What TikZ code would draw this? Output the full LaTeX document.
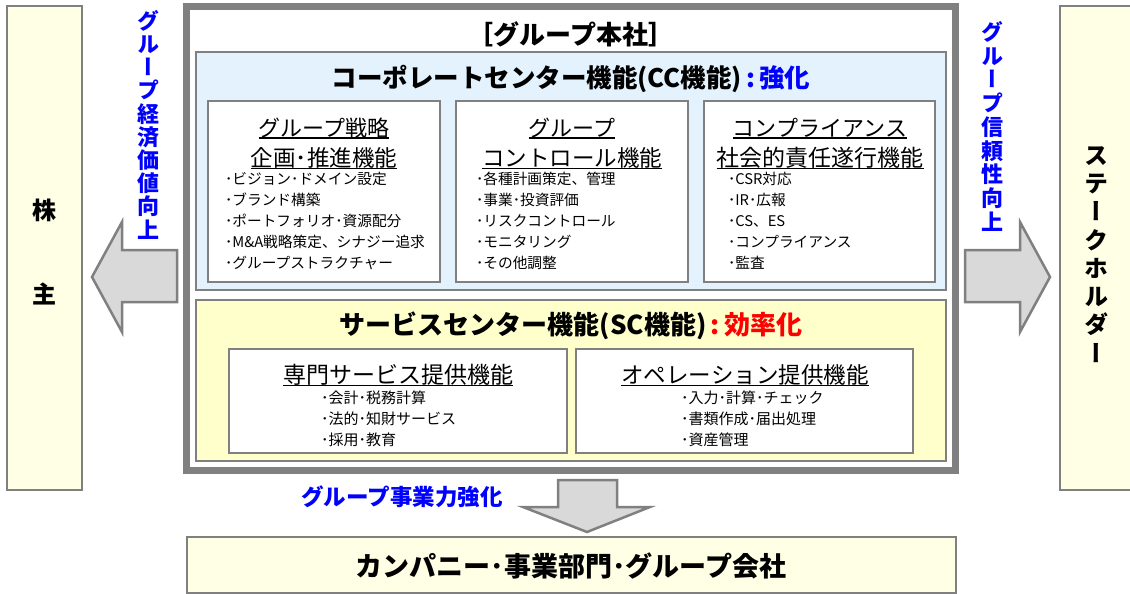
\documentclass[tikz,border=0pt]{standalone}
\usepackage{fontspec}
\setmainfont{Noto Sans CJK JP}
\newfontfamily\vjp{Noto Sans CJK JP}[RawFeature=+vert]
\definecolor{frame}{HTML}{808080}
\definecolor{ccfill}{HTML}{E3F2FC}
\definecolor{scfill}{HTML}{FFFFCC}
\definecolor{sidefill}{HTML}{FFFFE5}
\definecolor{arrfill}{HTML}{D9D9D9}
\definecolor{jblue}{HTML}{0000FF}
\definecolor{jred}{HTML}{FF0000}
\newcommand\js{\vrule height .88em depth .12em width 0pt}
\newsavebox\ulbox
\newcommand\myul[1]{\sbox\ulbox{#1}\rlap{\usebox\ulbox}\rule[-2.4pt]{\wd\ulbox}{1.3pt}}
\begin{document}
\begin{tikzpicture}[x=1pt,y=-1pt,
  box/.style={draw=frame, line width=2pt, inner sep=0pt, outer sep=0pt},
  t/.style={inner sep=0pt, outer sep=0pt, execute at begin node=\js},
  f/.style={font=\fontsize{#1pt}{#1pt}\selectfont},
  fb/.style={font=\fontsize{#1pt}{#1pt}\selectfont\bfseries},
  fv/.style={font=\vjp\fontsize{#1pt}{#1pt}\selectfont\bfseries},
  blockarrow/.style={fill=arrfill, draw=frame, line width=2.5pt, line join=miter}]
\useasboundingbox (0,0) rectangle (1130,594);
% side boxes
\node[box, line width=2.5pt, fill=sidefill, minimum width=75pt, minimum height=484pt] (sh) at (44.5,248) {};
\node[box, line width=2.5pt, fill=sidefill, minimum width=80pt, minimum height=484pt] (st) at (1100,248) {};
\node[t, fb=24] (sh1) at (44,210) {株};
\node[t, fb=24] (sh2) at (44,294) {主};
\foreach \c [count=\i] in {ス,テ,ー,ク,ホ,ル,ダ,ー}
  \node[t, fv=24] (stc\i) at (1096,{155+28.3*(\i-1)}) {\c};
% head office frame
\node[draw=frame, line width=7pt, fill=white, minimum width=769pt, minimum height=464pt, inner sep=0pt] (hq) at (571,238.5) {};
\node[t, fb=26] (hqt) at (571,35) {［グループ本社］};
% corporate center
\node[box, fill=ccfill, minimum width=750pt, minimum height=238pt] (cc) at (571,171) {};
\node[t, fb=25.5] (cct) at (571,79) {コーポレートセンター機能(CC機能)\textcolor{jblue}{\,:\,強化}};
\node[box, line width=2.5pt, fill=white, minimum width=232pt, minimum height=181pt] (g1) at (324,191.5) {};
\node[box, line width=2.5pt, fill=white, minimum width=232pt, minimum height=181pt] (g2) at (572,191.5) {};
\node[box, line width=2.5pt, fill=white, minimum width=231pt, minimum height=181pt] (g3) at (819.5,191.5) {};
\node[t, f=22] (g1a) at (324,128) {\myul{グループ戦略}};
\node[t, f=22.5] (g1b) at (324,158) {\myul{企画･推進機能}};
\node[t, f=22] (g2a) at (572,128) {\myul{グループ}};
\node[t, f=22.5] (g2b) at (572,158) {\myul{コントロール機能}};
\node[t, f=22] (g3a) at (820,128) {\myul{コンプライアンス}};
\node[t, f=23] (g3b) at (820,158) {\myul{社会的責任遂行機能}};
\foreach \s [count=\i] in {･ビジョン･ドメイン設定,･ブランド構築,･ポートフォリオ･資源配分,･M\&A戦略策定、シナジー追求,･グループストラクチャー}
  \node[t, f=14.7, anchor=west] (g1i\i) at (225,{179+21*(\i-1)}) {\s};
\foreach \s [count=\i] in {･各種計画策定、管理,･事業･投資評価,･リスクコントロール,･モニタリング,･その他調整}
  \node[t, f=14.7, anchor=west] (g2i\i) at (476,{179+21*(\i-1)}) {\s};
\foreach \s [count=\i] in {･CSR対応,･IR･広報,･CS、ES,･コンプライアンス,･監査}
  \node[t, f=14.7, anchor=west] (g3i\i) at (728,{179+21*(\i-1)}) {\s};
% service center
\node[box, fill=scfill, minimum width=750pt, minimum height=161pt] (sc) at (571,380.5) {};
\node[t, fb=26] (sct) at (571,326) {サービスセンター機能(SC機能)\textcolor{jred}{\,:\,効率化}};
\node[box, line width=2.5pt, fill=white, minimum width=338pt, minimum height=104pt] (s1) at (398,401) {};
\node[box, line width=2.5pt, fill=white, minimum width=337pt, minimum height=104pt] (s2) at (744.5,401) {};
\node[t, f=23] (s1t) at (398,375) {\myul{専門サービス提供機能}};
\node[t, f=22.5] (s2t) at (745,375) {\myul{オペレーション提供機能}};
\foreach \s [count=\i] in {･会計･税務計算,･法的･知財サービス,･採用･教育}
  \node[t, f=15, anchor=west] (s1i\i) at (321,{398+21*(\i-1)}) {\s};
\foreach \s [count=\i] in {･入力･計算･チェック,･書類作成･届出処理,･資産管理}
  \node[t, f=15, anchor=west] (s2i\i) at (681,{398+21*(\i-1)}) {\s};
% bottom box
\node[box, line width=2.5pt, fill=sidefill, minimum width=769pt, minimum height=56pt] (co) at (571.5,565) {};
\node[t, fb=27] (cot) at (571,566) {カンパニー･事業部門･グループ会社};
% block arrows
\draw[blockarrow] (177,250) -- (122,250) -- (122,222) -- (92,277) -- (122,332) -- (122,302) -- (177,302) -- cycle;
\draw[blockarrow] (965,250) -- (1020,250) -- (1020,222) -- (1050,277) -- (1020,332) -- (1020,302) -- (965,302) -- cycle;
\draw[blockarrow] (558,480) -- (617,480) -- (617,507) -- (650,507) -- (587,532) -- (523,507) -- (558,507) -- cycle;
% arrow labels
\foreach \c [count=\i] in {グ,ル,ー,プ,経,済,価,値,向,上}
  \node[t, fv=22, text=jblue] (lv\i) at (148,{21+23.2*(\i-1)}) {\c};
\foreach \c [count=\i] in {グ,ル,ー,プ,信,頼,性,向,上}
  \node[t, fv=22, text=jblue] (rv\i) at (992,{32+23.75*(\i-1)}) {\c};
\node[t, fb=22.5, text=jblue] (dl) at (402,497) {グループ事業力強化};
\end{tikzpicture}
\end{document}
